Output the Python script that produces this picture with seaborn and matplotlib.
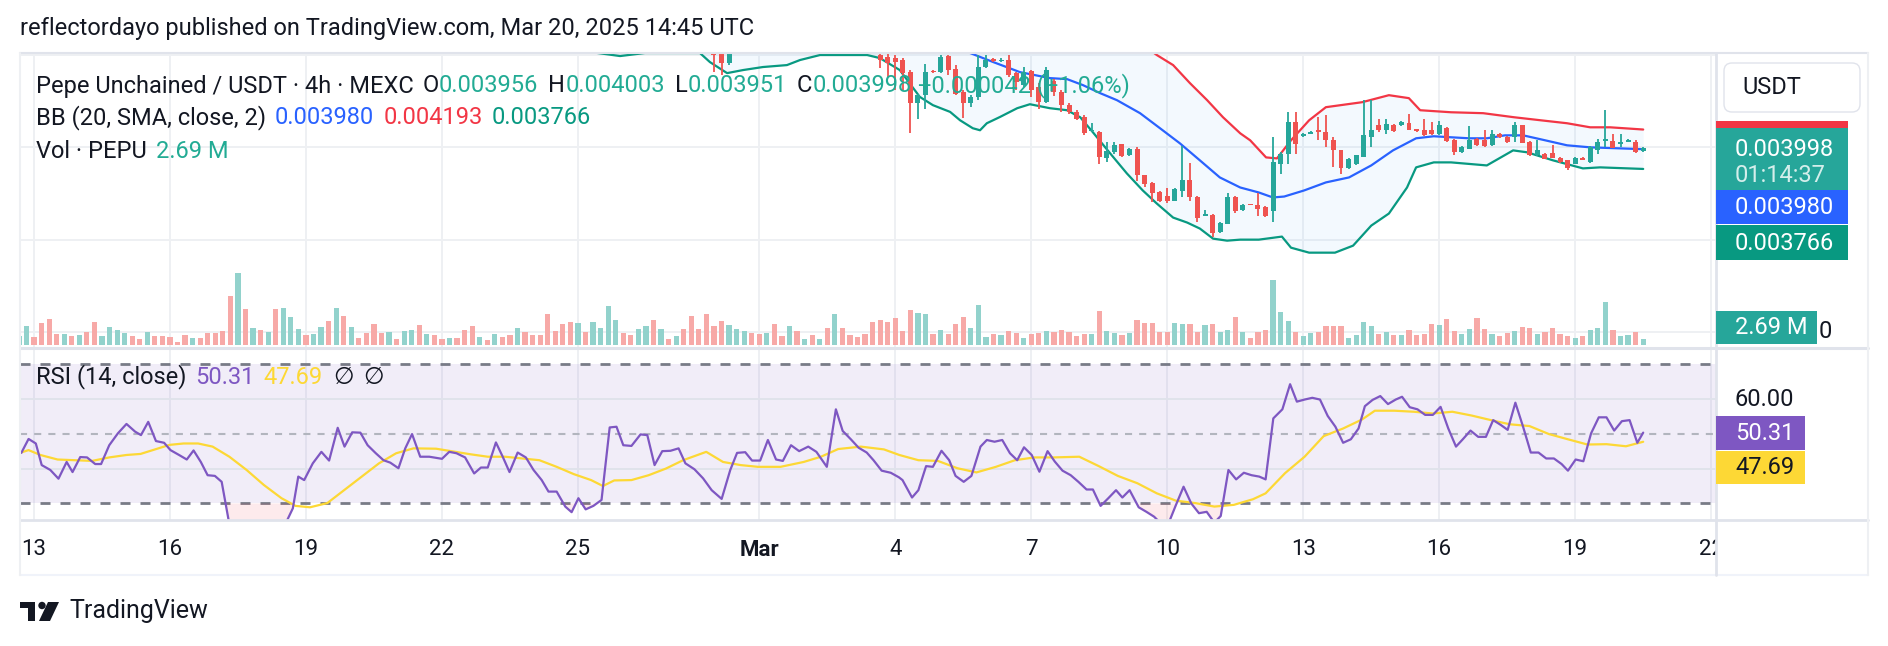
"""TradingView style PEPU/USDT 4h chart: candles + Bollinger Bands, volume and RSI."""

import matplotlib

matplotlib.use("Agg")
import matplotlib.pyplot as plt
import numpy as np
import seaborn as sns
from matplotlib.lines import Line2D
from matplotlib.patches import Circle, FancyBboxPatch, Polygon, Rectangle
from matplotlib.transforms import Bbox, IdentityTransform, TransformedBbox

sns.set_theme(style="white")
plt.rcParams["font.family"] = ["Roboto", "DejaVu Sans"]

W, H = 1888, 646
nan = float("nan")

# x unit: days after Feb 13 00:00 UTC; 4h bars, bar 0 opens Feb 12 16:00
BAR0 = -8 / 24
STEP = 4 / 24

tick_days = [0, 3, 6, 9, 12, 16, 19, 22, 25, 28, 31, 34, 37]
tick_labels = ["13", "16", "19", "22", "25", "Mar", "4", "7", "10", "13", "16", "19", "22"]

# volume per bar, millions of PEPU
volume = [
    4.05, 8.55, 3.6, 9.9, 11.7, 4.95, 4.95, 4.05, 4.5, 5.85,
    10.35, 4.05, 8.1, 6.75, 5.4, 4.05, 2.7, 5.85, 4.05, 4.05,
    3.6, 1.35, 4.5, 3.15, 3.15, 5.4, 5.4, 6.3, 22.05, 32.4,
    16.2, 7.65, 6.75, 5.85, 16.2, 16.65, 12.6, 7.2, 4.5, 4.95,
    8.1, 10.8, 16.65, 13.05, 8.1, 3.15, 5.4, 9.45, 5.4, 5.85,
    2.7, 6.3, 6.75, 9.0, 4.95, 4.5, 2.7, 3.15, 3.15, 6.75,
    8.55, 3.6, 2.25, 4.95, 3.6, 4.5, 7.65, 5.85, 4.5, 4.5,
    13.95, 6.3, 9.45, 10.35, 9.9, 5.85, 10.35, 7.65, 17.55, 11.25,
    5.4, 4.5, 7.2, 8.55, 11.25, 7.2, 2.7, 4.05, 7.2, 13.05,
    7.2, 13.95, 8.55, 10.8, 9.0, 7.2, 6.3, 5.4, 4.95, 5.4,
    9.45, 4.05, 8.55, 6.3, 2.7, 4.5, 2.7, 7.65, 13.95, 7.65,
    4.5, 3.6, 4.95, 10.35, 11.25, 10.35, 12.15, 6.3, 15.75, 14.4,
    13.95, 4.95, 6.75, 4.95, 9.45, 12.6, 7.65, 18.0, 3.6, 4.95,
    4.5, 6.3, 5.4, 3.15, 4.95, 5.4, 6.3, 5.85, 6.75, 5.85,
    4.05, 4.95, 4.95, 15.3, 6.45, 5.25, 4.5, 5.25, 11.1, 10.05,
    9.9, 6.0, 6.0, 10.05, 9.6, 9.6, 6.0, 9.0, 9.6, 6.0,
    6.75, 12.75, 6.0, 3.0, 6.0, 6.75, 29.25, 15.0, 10.8, 6.0,
    4.2, 5.25, 6.0, 8.7, 8.7, 8.7, 3.3, 4.5, 10.35, 8.7,
    4.8, 5.7, 4.5, 4.5, 6.75, 4.5, 5.1, 9.45, 9.0, 11.7,
    6.3, 5.1, 7.2, 12.15, 7.2, 4.95, 4.05, 5.4, 6.3, 8.1,
    7.65, 4.95, 5.85, 7.65, 4.95, 4.05, 3.15, 4.05, 6.75, 7.65,
    19.35, 6.75, 4.05, 4.5, 5.85, 2.69,
]
# g = up bar, r = down bar
volume_dir = (
    "ggrrrrgrgr" "rggggrrgrr" "rrrgrrrrrg" "rgrgrgggrg" "grgrgrrrrg"
    "rggrgrrgrr" "rgrgrrgrrr" "rrrrgrgggg" "rrggrgrgrr" "rrrrgggrrg"
    "rrgrgrgrgr" "rrrrrrrrrg" "grgrrrgggr" "grrgrrgrrr" "rrgrggrgrr"
    "rrrggrrgrg" "grgrrrgggr" "ggrrrrgggg" "rgrgrrrrgr" "rggrrgrrgr"
    "rgrrrrgrgg" "grggrg"
)

# candles from bar 92 (Feb 28 00:00), price in 1e-6 USDT; nan = above the visible range
CANDLE0 = 92
c_open = [5100, 5030, 4910] + [nan] * 19 + [
    5000, 4982, 4964, 4946, 4819, 4475, 4565, 4826, 4819, 4989,
    4844, 4601, 4475, 4540, 4866, 4950, 4935, 4946, 4801, 4674,
    4830, 4656, 4493, 4720, 4601, 4457, 4384, 4330, 4174, 4167,
    3888, 3949, 4033, 3913, 3986, 3696, 3612, 3515, 3470, 3424,
    3526, 3649, 3460, 3261, 3272, 3080, 3170, 3467, 3323, 3385,
    3370, 3352, 3308, 3822, 3931, 4275, 4123, 4149, 4178, 4167,
    4076, 3967, 3779, 3815, 3895, 4112, 4239, 4185, 4246, 4239,
    4264, 4192, 4192, 4185, 4141, 4214, 4076, 3949, 3986, 4094,
    4076, 4022, 4141, 4112, 4112, 4239, 4058, 3913, 3931, 3938,
    3888, 3859, 3822, 3888, 3841, 3967, 4069, 4069, 4040, 4062,
    4058, 3956,
]
c_high = [5150, 5080, 5100] + [nan] * 19 + [
    5030, 5010, 5000, 4964, 4837, 4583, 4898, 4837, 5000, 5000,
    4891, 4620, 4565, 5000, 5000, 4964, 4970, 5000, 4819, 4873,
    4837, 4692, 4873, 4740, 4620, 4475, 4402, 4348, 4264, 4178,
    4058, 4058, 4040, 3996, 4004, 3705, 3620, 3525, 3562, 3555,
    4011, 3833, 3470, 3326, 3280, 3195, 3507, 3478, 3390, 3390,
    3507, 3360, 4112, 3949, 4384, 4384, 4150, 4175, 4330, 4348,
    4112, 3970, 3885, 3920, 4511, 4518, 4312, 4312, 4255, 4285,
    4366, 4200, 4312, 4275, 4286, 4225, 4085, 4011, 4228, 4100,
    4192, 4185, 4150, 4120, 4275, 4246, 4065, 4083, 3940, 4022,
    3895, 3865, 3895, 3895, 4011, 4094, 4402, 4141, 4141, 4085,
    4083, 4003,
]
c_low = [4812, 4783, 4891] + [nan] * 19 + [
    4855, 4764, 4620, 4620, 4156, 4312, 4420, 4801, 4801, 4783,
    4565, 4322, 4438, 4511, 4855, 4928, 4928, 4764, 4620, 4656,
    4547, 4420, 4482, 4560, 4384, 4366, 4300, 4130, 4167, 3815,
    3841, 3931, 3895, 3906, 3630, 3569, 3406, 3410, 3395, 3415,
    3460, 3424, 3189, 3255, 3032, 3075, 3165, 3286, 3315, 3370,
    3261, 3250, 3189, 3714, 3822, 3931, 4115, 4140, 4076, 4004,
    3786, 3714, 3770, 3805, 3890, 4004, 4167, 4149, 4170, 4230,
    4185, 4170, 4125, 4135, 4135, 4060, 3913, 3940, 3980, 4015,
    4005, 4015, 4105, 4050, 4058, 4045, 3905, 3910, 3870, 3880,
    3830, 3757, 3815, 3860, 3835, 3931, 4004, 3990, 4004, 4055,
    3938, 3951,
]
c_close = [5000, 4910, 5030] + [nan] * 19 + [
    4946, 4909, 4928, 4801, 4475, 4565, 4819, 4812, 4982, 4837,
    4583, 4475, 4540, 4866, 4946, 4940, 4950, 4783, 4710, 4819,
    4620, 4493, 4837, 4600, 4457, 4384, 4312, 4156, 4185, 3895,
    3957, 4022, 3906, 3986, 3696, 3598, 3504, 3424, 3424, 3544,
    3649, 3460, 3236, 3279, 3069, 3185, 3460, 3308, 3380, 3375,
    3333, 3261, 3841, 3931, 4275, 4040, 4141, 4167, 4167, 4076,
    3967, 3779, 3877, 3913, 4130, 4192, 4185, 4257, 4178, 4275,
    4192, 4178, 4130, 4141, 4246, 4069, 3949, 4004, 4076, 4022,
    4011, 4149, 4112, 4058, 4239, 4051, 3913, 3967, 3877, 3888,
    3841, 3779, 3888, 3866, 4004, 4058, 4076, 3996, 4058, 4076,
    3949, 3998,
]

# Bollinger Bands (20, SMA, 2): (day, price 1e-6)
bb_upper = [
    (24.62, 5054), (24.77, 5000), (25.13, 4891), (25.50, 4696), (25.88, 4511),
    (26.23, 4326), (26.61, 4152), (26.83, 4076), (27.18, 3891), (27.42, 3880),
    (27.73, 4076), (28.13, 4293), (28.50, 4435), (29.30, 4489), (29.89, 4565),
    (30.33, 4533), (30.58, 4402), (31.26, 4380), (31.97, 4370), (32.65, 4326),
    (33.24, 4293), (33.82, 4261), (34.33, 4217), (34.77, 4217), (35.50, 4193),
]
bb_basis = [
    (20.43, 5054), (20.65, 5022), (21.16, 4924), (21.75, 4815), (22.41, 4750),
    (22.79, 4739), (23.14, 4674), (23.52, 4587), (23.89, 4511), (24.40, 4370),
    (24.84, 4207), (25.28, 4043), (25.72, 3859), (26.16, 3674), (26.61, 3565),
    (27.02, 3511), (27.33, 3457), (27.58, 3467), (28.02, 3533), (28.50, 3620),
    (29.01, 3674), (29.50, 3804), (29.98, 3967), (30.49, 4098), (30.88, 4120),
    (31.26, 4109), (31.66, 4098), (32.05, 4098), (32.45, 4130), (32.85, 4130),
    (33.24, 4087), (33.82, 4022), (34.33, 4000), (35.50, 3980),
]
bb_lower = [
    (12.27, 5033), (12.93, 4989), (13.48, 5022), (14.69, 5022), (14.91, 4924),
    (15.29, 4804), (15.64, 4837), (16.08, 4870), (16.61, 4891), (16.90, 4946),
    (17.34, 5000), (17.63, 5000), (18.38, 5000), (18.66, 4967), (19.10, 4837),
    (19.54, 4547), (19.83, 4457), (20.21, 4384), (20.43, 4293), (20.71, 4207),
    (20.87, 4185), (21.02, 4261), (21.31, 4329), (21.69, 4424), (21.97, 4467),
    (22.41, 4424), (22.79, 4402), (23.08, 4326), (23.36, 4163), (23.74, 3935),
    (24.11, 3717), (24.46, 3533), (24.77, 3391), (25.13, 3239), (25.44, 3185),
    (25.72, 3120), (26.01, 3011), (26.32, 2989), (26.61, 3000), (27.02, 3000),
    (27.53, 3033), (27.73, 2913), (28.13, 2859), (28.70, 2859), (29.10, 2935),
    (29.50, 3152), (29.89, 3283), (30.29, 3565), (30.49, 3783), (30.88, 3837),
    (31.26, 3837), (32.05, 3804), (32.63, 3967), (32.94, 3946), (33.51, 3859),
    (34.17, 3772), (34.55, 3783), (35.50, 3766),
]

# RSI (14, close) and its moving average: (day, value)
rsi_points = [
    (-0.28, 44.5), (-0.12, 48.5), (0.04, 47.2), (0.17, 41.0), (0.36, 39.6), (0.54, 37.1),
    (0.72, 41.9), (0.85, 39.0), (1.02, 43.3), (1.17, 43.2), (1.35, 41.3), (1.48, 41.3),
    (1.66, 46.7), (1.85, 50.1), (2.04, 52.8), (2.23, 50.6), (2.36, 49.6), (2.52, 53.4),
    (2.69, 47.9), (2.87, 47.4), (3.01, 45.3), (3.20, 43.9), (3.37, 42.6), (3.52, 45.2),
    (3.68, 41.9), (3.83, 38.1), (3.99, 37.9), (4.14, 36.2), (4.31, 24.0), (4.57, 22.0),
    (4.82, 21.0), (5.07, 22.0), (5.33, 23.0), (5.56, 24.5), (5.71, 28.6), (5.83, 37.7),
    (5.96, 36.7), (6.15, 41.5), (6.34, 44.8), (6.51, 42.3), (6.70, 51.7), (6.85, 46.3),
    (7.02, 50.4), (7.20, 50.3), (7.36, 46.7), (7.54, 44.4), (7.71, 42.4), (7.86, 41.7),
    (8.04, 40.1), (8.19, 45.8), (8.34, 49.9), (8.52, 43.4), (8.72, 43.4), (9.00, 42.8),
    (9.16, 44.8), (9.32, 44.4), (9.51, 43.2), (9.71, 38.6), (9.86, 40.3), (10.01, 40.3),
    (10.19, 47.5), (10.34, 43.4), (10.49, 39.0), (10.67, 44.6), (10.85, 43.2), (11.02, 39.6),
    (11.20, 36.7), (11.35, 33.4), (11.53, 33.4), (11.72, 29.1), (11.86, 27.5), (12.01, 31.5),
    (12.17, 28.3), (12.34, 29.3), (12.52, 31.0), (12.70, 51.8), (12.85, 52.0), (13.00, 46.7),
    (13.18, 46.5), (13.38, 49.8), (13.53, 49.6), (13.69, 41.0), (13.86, 45.0), (14.04, 45.1),
    (14.22, 45.8), (14.37, 41.5), (14.57, 39.8), (14.76, 37.2), (14.95, 33.8), (15.17, 31.3),
    (15.36, 39.6), (15.51, 44.5), (15.69, 44.7), (15.84, 42.3), (16.02, 42.3), (16.19, 48.2),
    (16.37, 42.6), (16.52, 42.2), (16.70, 46.7), (16.88, 45.0), (17.08, 46.3), (17.26, 44.8),
    (17.49, 40.5), (17.69, 57.0), (17.84, 50.8), (18.02, 48.4), (18.19, 46.0), (18.37, 44.6),
    (18.52, 42.4), (18.70, 39.4), (18.90, 38.8), (19.08, 37.5), (19.16, 36.7), (19.37, 31.7),
    (19.51, 33.8), (19.68, 40.7), (19.83, 40.5), (20.02, 45.1), (20.19, 42.4), (20.33, 37.9),
    (20.51, 36.2), (20.68, 37.9), (20.88, 46.3), (21.02, 48.2), (21.19, 47.7), (21.36, 48.2),
    (21.53, 44.4), (21.69, 42.4), (21.84, 46.1), (22.01, 43.9), (22.18, 39.1), (22.36, 45.0),
    (22.52, 42.0), (22.69, 39.4), (22.87, 38.1), (23.04, 36.2), (23.22, 34.0), (23.36, 34.0),
    (23.53, 29.3), (23.70, 31.5), (23.87, 33.8), (24.01, 31.7), (24.17, 33.8), (24.37, 28.9),
    (24.54, 27.6), (24.71, 26.2), (24.88, 24.0), (25.02, 24.0), (25.19, 29.5), (25.36, 34.8),
    (25.53, 30.0), (25.70, 27.2), (25.87, 27.6), (26.04, 24.5), (26.18, 26.4), (26.35, 39.6),
    (26.52, 36.9), (26.69, 38.8), (26.86, 38.1), (27.03, 37.7), (27.17, 36.9), (27.34, 54.4),
    (27.54, 57.0), (27.71, 64.2), (27.86, 59.2), (28.03, 59.8), (28.20, 60.3), (28.37, 59.8),
    (28.54, 55.1), (28.71, 52.0), (28.88, 47.4), (29.05, 48.4), (29.22, 51.5), (29.36, 57.9),
    (29.53, 59.7), (29.70, 60.8), (29.87, 58.5), (30.04, 59.8), (30.18, 60.6), (30.35, 57.6),
    (30.52, 57.0), (30.69, 55.4), (30.86, 55.4), (31.03, 57.7), (31.20, 51.5), (31.37, 46.3),
    (31.52, 48.4), (31.69, 50.9), (31.86, 49.1), (32.03, 49.1), (32.19, 53.9), (32.36, 52.5),
    (32.51, 51.1), (32.68, 58.9), (32.85, 52.0), (33.02, 44.6), (33.19, 44.6), (33.36, 42.9),
    (33.53, 42.9), (33.70, 41.3), (33.84, 39.4), (34.01, 42.6), (34.18, 42.1), (34.35, 50.1),
    (34.52, 54.7), (34.69, 54.7), (34.86, 50.9), (35.03, 53.6), (35.20, 53.9), (35.37, 47.4),
    (35.50, 50.31),
]
rsi_ma_points = [
    (-0.31, 44.5), (-0.12, 45.3), (0.14, 43.9), (0.52, 42.6), (0.90, 42.4), (1.28, 42.2),
    (1.66, 43.2), (2.04, 43.9), (2.35, 44.2), (2.67, 45.5), (2.99, 46.8), (3.30, 47.2),
    (3.62, 47.2), (3.94, 46.3), (4.31, 43.4), (4.69, 39.6), (5.07, 35.3), (5.46, 31.5),
    (5.77, 29.3), (6.09, 28.9), (6.47, 30.1), (6.85, 33.9), (7.23, 37.7), (7.61, 41.5),
    (7.99, 44.4), (8.37, 45.8), (8.87, 45.7), (9.25, 44.9), (9.63, 44.1), (10.01, 43.4),
    (10.39, 43.4), (10.77, 42.9), (11.15, 42.4), (11.53, 40.5), (11.91, 38.4), (12.29, 36.7),
    (12.55, 35.0), (12.80, 36.6), (13.18, 36.7), (13.56, 38.1), (13.94, 40.0), (14.32, 42.4),
    (14.83, 44.8), (15.20, 41.9), (15.59, 41.0), (15.97, 40.5), (16.47, 40.5), (16.98, 41.9),
    (17.36, 43.4), (17.74, 45.6), (18.24, 46.3), (18.75, 45.5), (19.09, 43.9), (19.51, 42.4),
    (19.94, 42.2), (20.37, 40.1), (20.79, 38.9), (21.22, 40.5), (21.64, 42.4), (22.07, 43.2),
    (22.49, 43.2), (23.06, 43.4), (23.49, 40.7), (23.91, 37.9), (24.34, 35.8), (24.77, 32.9),
    (25.19, 30.8), (25.62, 30.1), (26.04, 29.1), (26.47, 29.6), (26.89, 31.2), (27.17, 32.9),
    (27.60, 38.7), (28.03, 43.4), (28.45, 49.3), (28.88, 51.5), (29.30, 54.1), (29.58, 56.6),
    (30.01, 56.6), (30.44, 56.3), (30.86, 55.8), (31.29, 56.3), (31.72, 55.2), (32.14, 53.9),
    (32.56, 52.7), (32.99, 52.2), (33.42, 49.9), (33.84, 48.4), (34.27, 46.9), (34.69, 47.0),
    (35.12, 46.4), (35.50, 47.69),
]

price_grid = [0.002, 0.003, 0.004, 0.005]

UP, DOWN = "#26a69a", "#ef5350"
VOL_UP, VOL_DOWN = "#92d2cc", "#f7a9a7"
BB_UP, BB_MID, BB_LO = "#f23645", "#2962ff", "#089981"
RSI_C, MA_C = "#7e57c2", "#fdd835"
TEXT, VAL = "#131722", "#22ab94"
GRID, BORDER = "#eef0f3", "#e0e3eb"
FS = 17
PX = IdentityTransform()


def frac(x0, y0, x1, y1):
    return [x0 / W, 1 - y1 / H, (x1 - x0) / W, (y1 - y0) / H]


def pts(pairs, scale=1.0):
    a = np.array(pairs, dtype=float)
    return a[:, 0], a[:, 1] * scale


def line_px(x0, y0, x1, y1, color, lw):
    fig.add_artist(Line2D([x0, x1], [H - y0, H - y1], transform=PX, color=color, lw=lw))


def box_px(x0, y0, x1, y1, color, z=4):
    fig.add_artist(Rectangle((x0, H - y1), x1 - x0, y1 - y0, transform=PX,
                             facecolor=color, edgecolor="none", zorder=z))


def text_px(x, y, s, color=TEXT, size=FS, z=5, **kw):
    fig.text(x, H - y, s, transform=PX, color=color, fontsize=size, va="center", zorder=z, **kw)


def chain(axis, x, y, parts, size=FS):
    prev = None
    for s, color, gap in parts:
        if prev is None:
            prev = axis.annotate(s, xy=(x, H - y), xycoords="figure pixels", va="center",
                                 color=color, fontsize=size, annotation_clip=False, zorder=10)
        else:
            prev = axis.annotate(s, xy=(1, 0.5), xycoords=prev, xytext=(gap * 0.72, 0),
                                 textcoords="offset points", va="center", color=color,
                                 fontsize=size, annotation_clip=False, zorder=10)


fig = plt.figure(figsize=(W / 100, H / 100), dpi=100)
fig.patch.set_facecolor("white")

vol_ax = fig.add_axes(frac(20, 53, 1716, 347))
ax = fig.add_axes(frac(20, 53, 1716, 347), sharex=vol_ax)
rsi_ax = fig.add_axes(frac(20, 349, 1716, 520), sharex=vol_ax)
ax.patch.set_visible(False)
for a in (vol_ax, ax, rsi_ax):
    for s in a.spines.values():
        s.set_visible(False)
    a.set_yticks([])
    a.tick_params(axis="x", length=0)
vol_ax.tick_params(labelbottom=False)
ax.tick_params(labelbottom=False)
vol_ax.set_xlim(-0.309, 37.106)

# grid
for d in tick_days:
    vol_ax.axvline(d, color=GRID, lw=1.4, zorder=0)
    rsi_ax.axvline(d, color=GRID, lw=1.4, zorder=0)
vol_ax.hlines(price_grid, -1, 40, colors=GRID, lw=1.4, transform=ax.transData, zorder=0)

# volume
n_vol = min(len(volume), len(volume_dir))
t_vol = BAR0 + STEP * np.arange(n_vol)
vol_colors = [VOL_UP if d == "g" else VOL_DOWN for d in volume_dir[:n_vol]]
vol_ax.bar(t_vol, volume[:n_vol], width=0.115, color=vol_colors, linewidth=0, zorder=2)
vol_ax.set_ylim(-0.9, 131.4)

# Bollinger Bands
ut, uv = pts(bb_upper, 1e-6)
mt, mv = pts(bb_basis, 1e-6)
lt, lv = pts(bb_lower, 1e-6)
t_fill = np.union1d(lt, ut)
t_fill = t_fill[t_fill >= lt[0]]
ax.fill_between(t_fill, np.interp(t_fill, lt, lv), np.interp(t_fill, ut, uv, left=0.006),
                color="#2196f3", alpha=0.05, linewidth=0, zorder=1)
for tt, vv, col in ((ut, uv, BB_UP), (mt, mv, BB_MID), (lt, lv, BB_LO)):
    sns.lineplot(x=tt, y=vv, ax=ax, color=col, linewidth=1.6, estimator=None, sort=False, zorder=2)

# candles
n_c = min(len(c_open), len(c_high), len(c_low), len(c_close))
o = np.array(c_open[:n_c]) * 1e-6
h = np.array(c_high[:n_c]) * 1e-6
lo = np.array(c_low[:n_c]) * 1e-6
c = np.array(c_close[:n_c]) * 1e-6
t_c = BAR0 + STEP * (CANDLE0 + np.arange(n_c))
ok = ~np.isnan(o)
col = np.where(c >= o, UP, DOWN)
ax.vlines(t_c[ok], lo[ok], h[ok], colors=col[ok], linewidth=1.3, zorder=3)
body = np.maximum(np.abs(c - o), 1.6e-5)
ax.bar(t_c[ok], body[ok], bottom=np.minimum(o, c)[ok], width=0.11, color=col[ok],
       linewidth=0, zorder=4)
ax.set_ylim(0.001837, 0.005022)
ax.set_xlabel("")
ax.set_ylabel("")

# RSI pane
rt, rv = pts(rsi_points)
at, av = pts(rsi_ma_points)
rsi_ax.axhspan(30, 70, color=RSI_C, alpha=0.1, linewidth=0, zorder=0)
for g in (40, 60):
    rsi_ax.axhline(g, color=BORDER, lw=1.4, zorder=1)
rsi_ax.axhline(70, color="#787b86", lw=2, dashes=(3.6, 3.6), zorder=1)
rsi_ax.axhline(30, color="#787b86", lw=2, dashes=(3.6, 3.6), zorder=1)
rsi_ax.axhline(50, color="#b2b5be", lw=1.5, dashes=(3.4, 3.4), zorder=1)
rsi_ax.fill_between(rt, rv, 30, where=rv < 30, interpolate=True, color="#f23645",
                    alpha=0.1, linewidth=0, zorder=1)
sns.lineplot(x=at, y=av, ax=rsi_ax, color=MA_C, linewidth=1.6, estimator=None, sort=False, zorder=2)
sns.lineplot(x=rt, y=rv, ax=rsi_ax, color=RSI_C, linewidth=1.6, estimator=None, sort=False, zorder=3)
rsi_ax.set_ylim(25.25, 74.3)
rsi_ax.set_xlabel("")
rsi_ax.set_ylabel("")
rsi_ax.set_xticks(tick_days, labels=tick_labels)
rsi_ax.tick_params(axis="x", length=0, pad=14, labelsize=16, labelcolor=TEXT)
clip = TransformedBbox(Bbox.from_extents(20 / W, 0, 1716 / W, 1), fig.transFigure)
for i, lab in enumerate(rsi_ax.get_xticklabels()):
    lab.set_clip_box(clip)
    lab.set_clip_on(True)
    if tick_labels[i] == "Mar":
        lab.set_fontweight("bold")

# legends
chain(ax, 36, 86, [
    ("Pepe Unchained / USDT · 4h · MEXC", TEXT, 0), ("O", TEXT, 9), ("0.003956", VAL, 0),
    ("H", TEXT, 10), ("0.004003", VAL, 0), ("L", TEXT, 10), ("0.003951", VAL, 0),
    ("C", TEXT, 10), ("0.003998", VAL, 0), ("+0.000042 (+1.06%)", VAL, 7),
])
chain(ax, 36, 118, [
    ("BB (20, SMA, close, 2)", TEXT, 0), ("0.003980", BB_MID, 9),
    ("0.004193", BB_UP, 9), ("0.003766", BB_LO, 9),
])
chain(ax, 36, 152, [("Vol · PEPU", TEXT, 0), ("2.69 M", VAL, 9)])
chain(rsi_ax, 36, 377, [
    ("RSI (14, close)", TEXT, 0), ("50.31", RSI_C, 9), ("47.69", MA_C, 9),
    ("∅", TEXT, 10), ("∅", TEXT, 10),
])

# frame lines
line_px(20, 53, 1868, 53, BORDER, 1.5)
line_px(20, 348, 1868, 348, BORDER, 2.2)
line_px(20, 520, 1868, 520, BORDER, 2)
line_px(20, 575, 1868, 575, "#f0f3fa", 1.5)
line_px(20, 53, 20, 575, GRID, 1.5)
line_px(1716, 53, 1716, 575, BORDER, 2)
line_px(1868, 53, 1868, 575, GRID, 1.5)

# price scale labels
fig.add_artist(FancyBboxPatch((1724, H - 112), 136, 49, boxstyle="round,pad=0,rounding_size=8",
                              transform=PX, facecolor="white", edgecolor=BORDER, lw=1, zorder=4))
text_px(1742, 87, "USDT")
box_px(1716, 121, 1848, 129, BB_UP)
box_px(1716, 128, 1848, 190, UP)
text_px(1735, 149, "0.003998", color="white")
text_px(1735, 175, "01:14:37", color="#d4eeeb")
box_px(1716, 190, 1848, 224, BB_MID)
text_px(1735, 207, "0.003980", color="white")
box_px(1716, 225, 1848, 260, BB_LO)
text_px(1735, 243, "0.003766", color="white")
box_px(1716, 311, 1817, 344, UP)
text_px(1735, 328, "2.69 M", color="white")
text_px(1819, 331, "0")
text_px(1735, 400, "60.00")
box_px(1716, 416, 1805, 450, RSI_C)
text_px(1735, 433, "50.31", color="white")
box_px(1716, 451, 1805, 484, MA_C)
text_px(1735, 467, "47.69")

# header and footer
text_px(20, 29, "reflectordayo published on TradingView.com, Mar 20, 2025 14:45 UTC")
for patch in (
    Rectangle((20, H - 608), 15, 6),
    Rectangle((28, H - 621), 7, 19),
    Circle((42, H - 605.5), 3.7),
    Polygon([(48, H - 602), (59, H - 602), (50, H - 621), (39, H - 621)]),
):
    patch.set_transform(PX)
    patch.set_facecolor(TEXT)
    patch.set_edgecolor("none")
    fig.add_artist(patch)
text_px(69, 611, "TradingView", size=18)

fig.savefig("out.png", dpi=100)
